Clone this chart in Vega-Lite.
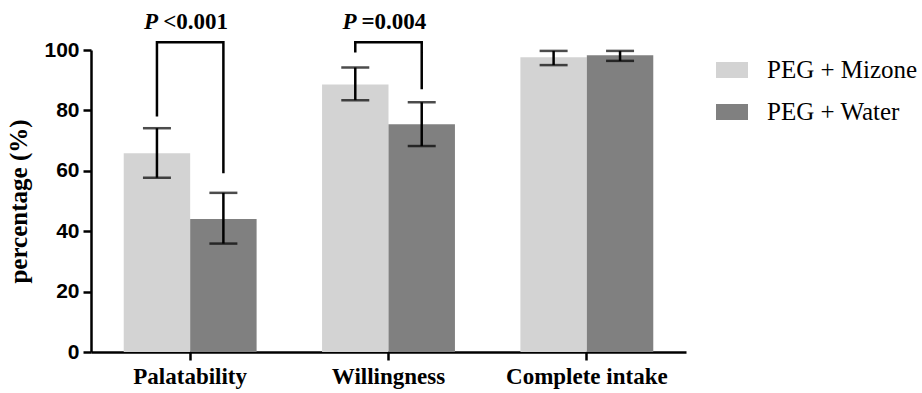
{
  "$schema": "https://vega.github.io/schema/vega-lite/v6.json",
  "autosize": {"type": "none"},
  "padding": {"left": 91, "top": 50, "right": 236, "bottom": 41},
  "width": 595,
  "height": 302,
  "background": "white",
  "config": {
    "view": {"stroke": null}
  },
  "datasets": {
    "bars": [
      {"category": "Palatability", "group": "PEG + Mizone", "value": 65.8, "lo": 57.7, "hi": 74.1},
      {"category": "Palatability", "group": "PEG + Water", "value": 44.0, "lo": 35.9, "hi": 52.7},
      {"category": "Willingness", "group": "PEG + Mizone", "value": 88.6, "lo": 83.4, "hi": 94.2},
      {"category": "Willingness", "group": "PEG + Water", "value": 75.4, "lo": 68.2, "hi": 82.7},
      {"category": "Complete intake", "group": "PEG + Mizone", "value": 97.6, "lo": 95.0, "hi": 99.7},
      {"category": "Complete intake", "group": "PEG + Water", "value": 98.3, "lo": 96.4, "hi": 99.7}
    ],
    "brackets": [
      {"bracket": "a", "category": "Palatability", "group": "PEG + Mizone", "y": 78.0, "ord": 1},
      {"bracket": "a", "category": "Palatability", "group": "PEG + Mizone", "y": 102.6, "ord": 2},
      {"bracket": "a", "category": "Palatability", "group": "PEG + Water", "y": 102.6, "ord": 3},
      {"bracket": "a", "category": "Palatability", "group": "PEG + Water", "y": 59.2, "ord": 4},
      {"bracket": "b", "category": "Willingness", "group": "PEG + Mizone", "y": 99.2, "ord": 1},
      {"bracket": "b", "category": "Willingness", "group": "PEG + Mizone", "y": 102.6, "ord": 2},
      {"bracket": "b", "category": "Willingness", "group": "PEG + Water", "y": 102.6, "ord": 3},
      {"bracket": "b", "category": "Willingness", "group": "PEG + Water", "y": 87.0, "ord": 4}
    ],
    "labels": [
      {"category": "Palatability", "p": "P", "rest": "<0.001", "y": 106.9},
      {"category": "Willingness", "p": "P", "rest": "=0.004", "y": 106.9}
    ]
  },
  "encoding": {
    "x": {
      "field": "category",
      "type": "nominal",
      "sort": ["Palatability", "Willingness", "Complete intake"],
      "scale": {"domain": ["Palatability", "Willingness", "Complete intake"], "paddingInner": 0.33, "paddingOuter": 0.165},
      "axis": {
        "title": null,
        "labelAngle": 0,
        "labelFont": "Liberation Serif",
        "labelFontWeight": "bold",
        "labelFontSize": 23,
        "labelColor": "black",
        "labelPadding": 5,
        "domainColor": "black",
        "domainWidth": 2.5,
        "tickColor": "black",
        "tickWidth": 2.5,
        "tickSize": 8
      }
    }
  },
  "layer": [
    {
      "data": {"name": "bars"},
      "mark": {"type": "bar", "clip": false},
      "encoding": {
        "xOffset": {"field": "group", "type": "nominal", "scale": {"domain": ["PEG + Mizone", "PEG + Water"], "paddingInner": 0, "paddingOuter": 0}},
        "y": {
          "field": "value",
          "type": "quantitative",
          "scale": {"domain": [0, 100], "nice": false, "zero": true},
          "axis": {
            "title": "percentage (%)",
            "titleFont": "Liberation Serif",
            "titleFontWeight": "bold",
            "titleFontSize": 25,
            "titleColor": "black",
            "titlePadding": 12,
            "values": [0, 20, 40, 60, 80, 100],
            "grid": false,
            "labelFont": "Liberation Sans",
            "labelFontWeight": "bold",
            "labelFontSize": 21,
            "labelColor": "black",
            "labelPadding": 4,
            "domainColor": "black",
            "domainWidth": 2.5,
            "tickColor": "black",
            "tickWidth": 2.5,
            "tickSize": 8
          }
        },
        "color": {
          "field": "group",
          "type": "nominal",
          "scale": {"domain": ["PEG + Mizone", "PEG + Water"], "range": ["#d3d3d3", "#808080"]},
          "legend": {
            "title": null,
            "orient": "none",
            "legendX": 625,
            "legendY": 4,
            "padding": 0,
            "symbolType": "M-1,-0.5H1V0.5H-1Z",
            "symbolSize": 1024,
            "symbolStrokeWidth": 0,
            "labelFont": "Liberation Serif",
            "labelFontSize": 25,
            "labelLimit": 400,
            "labelColor": "black",
            "labelOffset": 19,
            "rowPadding": 13
          }
        }
      }
    },
    {
      "data": {"name": "bars"},
      "mark": {"type": "rule", "color": "black", "strokeWidth": 2.5},
      "encoding": {
        "xOffset": {"field": "group", "type": "nominal"},
        "y": {"field": "lo", "type": "quantitative"},
        "y2": {"field": "hi"}
      }
    },
    {
      "data": {"name": "bars"},
      "mark": {"type": "tick", "color": "black", "thickness": 2.5, "size": 28},
      "encoding": {
        "xOffset": {"field": "group", "type": "nominal"},
        "y": {"field": "lo", "type": "quantitative"}
      }
    },
    {
      "data": {"name": "bars"},
      "mark": {"type": "tick", "color": "black", "thickness": 2.5, "size": 28},
      "encoding": {
        "xOffset": {"field": "group", "type": "nominal"},
        "y": {"field": "hi", "type": "quantitative"}
      }
    },
    {
      "data": {"name": "brackets"},
      "mark": {"type": "line", "color": "black", "strokeWidth": 2.5, "clip": false, "strokeJoin": "miter"},
      "encoding": {
        "xOffset": {"field": "group", "type": "nominal"},
        "y": {"field": "y", "type": "quantitative"},
        "detail": {"field": "bracket"},
        "order": {"field": "ord", "type": "quantitative"}
      }
    },
    {
      "data": {"name": "labels"},
      "mark": {"type": "text", "align": "right", "baseline": "alphabetic", "dx": -32, "font": "Liberation Serif", "fontWeight": "bold", "fontStyle": "italic", "fontSize": 23, "color": "black", "clip": false},
      "encoding": {
        "y": {"field": "y", "type": "quantitative"},
        "text": {"field": "p"}
      }
    },
    {
      "data": {"name": "labels"},
      "mark": {"type": "text", "align": "left", "baseline": "alphabetic", "dx": -27, "font": "Liberation Serif", "fontWeight": "bold", "fontSize": 23, "color": "black", "clip": false},
      "encoding": {
        "y": {"field": "y", "type": "quantitative"},
        "text": {"field": "rest"}
      }
    }
  ]
}
